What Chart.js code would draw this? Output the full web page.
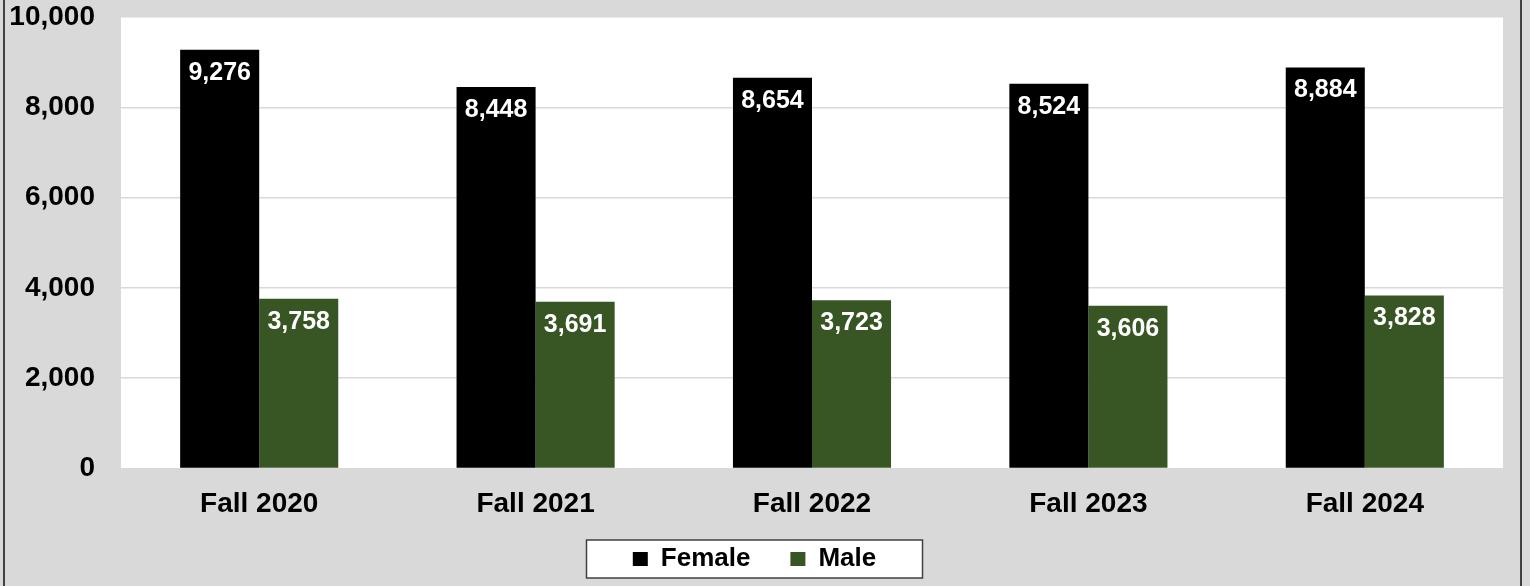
<!DOCTYPE html>
<html>
<head>
<meta charset="utf-8">
<title>Fall Enrollment by Gender</title>
<script src="https://cdn.jsdelivr.net/npm/chart.js@4.4.1/dist/chart.umd.min.js"></script>
<style>
  html, body { margin: 0; padding: 0; background: #d9d9d9; }
  #wrap { width: 1530px; height: 586px; position: relative; }
</style>
</head>
<body>
<div id="wrap"><canvas id="chart"></canvas></div>
<script>
'use strict';

/* ── Data ── */
const TERMS       = ['Fall 2020', 'Fall 2021', 'Fall 2022', 'Fall 2023', 'Fall 2024'];
const FEMALE      = [9276, 8448, 8654, 8524, 8884];
const MALE        = [3758, 3691, 3723, 3606, 3828];
const Y_MAX       = 10000;
const Y_STEP      = 2000;

const FONT = "'Liberation Sans', Arial, sans-serif";
const fmt  = v => Number(v).toLocaleString('en-US');

/* Background: grey canvas, white plot area, side frame lines, legend box */
const backdrop = {
  id: 'backdrop',
  afterLayout(chart) {
    // pull the legend row up so it sits in its framed box (wide item gap needs big padding)
    const lg = chart.legend;
    if (lg) { lg.top -= 34; lg.bottom -= 34; }
  },
  beforeDraw(chart) {
    const { ctx, chartArea: a } = chart;
    ctx.save();
    ctx.fillStyle = '#d9d9d9';
    ctx.fillRect(0, 0, chart.width, chart.height);
    ctx.fillStyle = '#ffffff';
    ctx.fillRect(a.left, a.top, a.right - a.left, a.bottom - a.top);

    // frame lines on left / right
    ctx.strokeStyle = '#404040';
    ctx.lineWidth = 2;
    ctx.beginPath();
    ctx.moveTo(4, 0); ctx.lineTo(4, chart.height);
    ctx.moveTo(1521, 0); ctx.lineTo(1521, chart.height);
    ctx.stroke();

    // legend box
    const hb = chart.legend && chart.legend.legendHitBoxes;
    if (hb && hb.length) {
      const l = hb[0].left, r = hb[hb.length - 1].left + hb[hb.length - 1].width;
      const cx = (l + r) / 2;
      const cy = hb[0].top + hb[0].height / 2;
      const w = 336, h = 38;
      ctx.fillStyle = '#ffffff';
      ctx.fillRect(cx - w / 2, cy - h / 2, w, h);
      ctx.strokeStyle = '#404040';
      ctx.lineWidth = 1.5;
      ctx.strokeRect(cx - w / 2, cy - h / 2, w, h);
    }
    ctx.restore();
  }
};

/* Value labels inside the top of each bar */
const barLabels = {
  id: 'barLabels',
  afterDatasetsDraw(chart) {
    const { ctx } = chart;
    ctx.save();
    ctx.font = `bold 25px ${FONT}`;
    ctx.fillStyle = '#ffffff';
    ctx.textAlign = 'center';
    ctx.textBaseline = 'middle';
    chart.data.datasets.forEach((ds, i) => {
      chart.getDatasetMeta(i).data.forEach((bar, j) => {
        ctx.fillText(fmt(ds.data[j]), bar.x, bar.y + 23);
      });
    });
    ctx.restore();
  }
};

new Chart(document.getElementById('chart'), {
  type: 'bar',
  data: {
    labels: TERMS,
    datasets: [
      { label: 'Female', data: FEMALE, backgroundColor: '#000000' },
      { label: 'Male',   data: MALE,   backgroundColor: '#375623' }
    ]
  },
  options: {
    responsive: true,
    maintainAspectRatio: false,
    animation: false,
    layout: { padding: { top: 17, left: 6, right: 27, bottom: -30 } },
    datasets: { bar: { categoryPercentage: 0.572, barPercentage: 1.0 } },
    plugins: {
      tooltip: { enabled: false },
      legend: {
        position: 'bottom',
        labels: {
          color: '#000000',
          font: { family: FONT, size: 26, weight: 'bold' },
          boxWidth: 15,
          boxHeight: 14,
          padding: 40
        }
      }
    },
    scales: {
      x: {
        grid: { display: false, drawTicks: false },
        border: { display: false },
        ticks: {
          color: '#000000',
          padding: 19,
          font: { family: FONT, size: 28, weight: 'bold' }
        }
      },
      y: {
        min: 0,
        max: Y_MAX,
        afterFit(scale) { scale.width = 115; scale.paddingTop = 0; scale.paddingBottom = 0; },
        grid: { color: '#d9d9d9', lineWidth: 1.5, drawTicks: false },
        border: { display: false },
        ticks: {
          stepSize: Y_STEP,
          color: '#000000',
          padding: 26,
          font: { family: FONT, size: 28, weight: 'bold' },
          callback: v => fmt(v)
        }
      }
    }
  },
  plugins: [backdrop, barLabels]
});
</script>
</body>
</html>
